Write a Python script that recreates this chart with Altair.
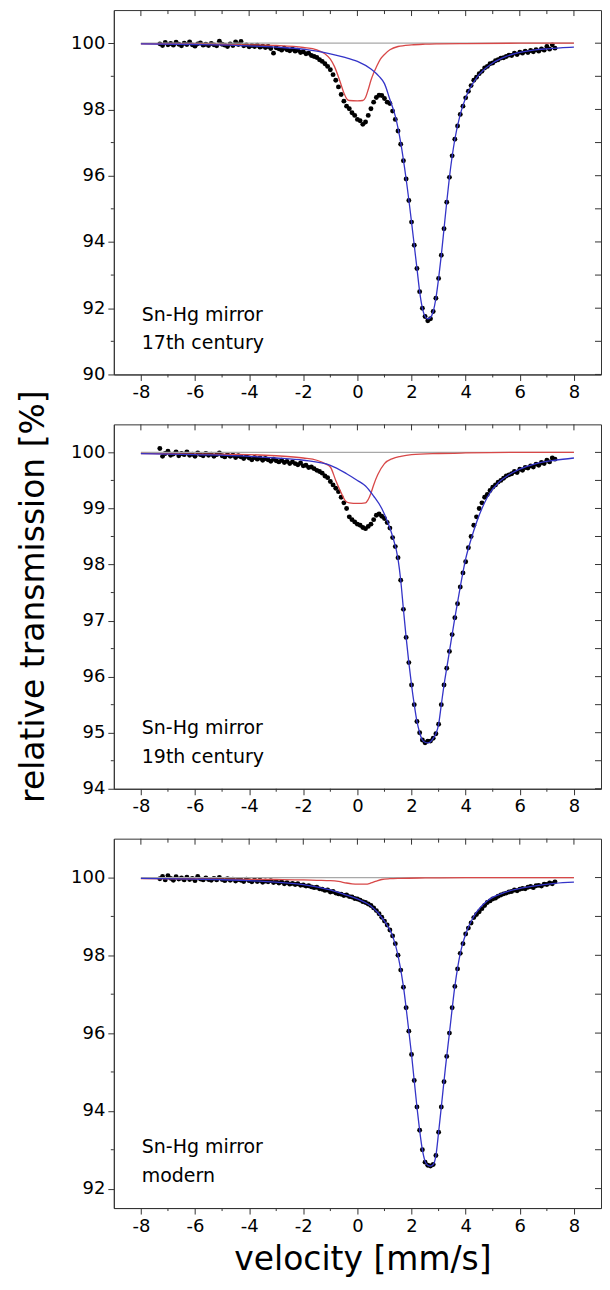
import altair as alt
import pandas as pd

FONT = "DejaVu Sans"
TICK = "#333333"
BLUE = "#3434c8"
RED = "#d84848"
GRAY = "#a8a8a8"

# velocity channels (mm/s) of the measured spectra
VEL_START, VEL_STEP, N_CH = -7.3, 0.1, 147
VEL = [round(VEL_START + VEL_STEP * i, 1) for i in range(N_CH)]

DATA1 = [
    99.98, 99.93, 100.02, 99.95, 99.99, 99.94, 100.03, 99.97, 99.92, 100.0,
    99.96, 100.04, 99.95, 99.91, 99.98, 100.01, 99.94, 99.97, 99.93, 99.99,
    99.95, 99.92, 100.06, 99.97, 99.94, 99.9, 99.98, 99.93, 100.04, 99.96,
    100.05, 99.92, 99.95, 99.89, 99.93, 99.9, 99.94, 99.88, 99.91, 99.87,
    99.9, 99.84, 99.7, 99.86, 99.83, 99.79, 99.85, 99.8, 99.77, 99.82,
    99.76, 99.79, 99.72, 99.74, 99.68, 99.7, 99.63, 99.6, 99.57, 99.5,
    99.45, 99.38, 99.3, 99.2, 99.05, 98.88, 98.68, 98.45, 98.25, 98.1,
    98.02, 97.9, 97.82, 97.7, 97.66, 97.55, 97.62, 97.82, 98.02, 98.22,
    98.36, 98.43, 98.42, 98.33, 98.22, 98.18, 97.95, 97.7, 97.35, 96.95,
    96.45, 95.9, 95.25, 94.6, 93.9, 93.2, 92.5, 92.0, 91.75, 91.62,
    91.68, 91.9, 92.3, 92.9, 93.6, 94.4, 95.2, 95.95, 96.6, 97.1,
    97.5, 97.85, 98.1, 98.35, 98.55, 98.72, 98.88, 98.97, 99.08, 99.15,
    99.25, 99.3, 99.38, 99.4, 99.47, 99.5, 99.55, 99.56, 99.6, 99.64,
    99.63, 99.7, 99.66, 99.73, 99.7, 99.76, 99.72, 99.78, 99.74, 99.8,
    99.76, 99.83, 99.79, 99.9, 99.82, 99.95, 99.85,
]
DATA2 = [
    100.07, 99.93, 99.98, 100.02, 99.95, 99.97, 100.01, 99.94, 99.98, 99.96,
    100.01, 99.95, 99.97, 99.93, 99.99, 99.96, 99.94, 99.98, 99.95, 99.97,
    99.93, 99.96, 99.99, 99.94, 99.92, 99.96, 99.93, 99.95, 99.91, 99.94,
    99.92, 99.89, 99.93, 99.9, 99.87, 99.91, 99.88, 99.9, 99.86, 99.89,
    99.87, 99.84, 99.88, 99.85, 99.83, 99.86, 99.82, 99.84, 99.8, 99.83,
    99.8, 99.78, 99.81, 99.76, 99.77, 99.73, 99.74, 99.71, 99.68, 99.66,
    99.63, 99.58, 99.55, 99.48, 99.42, 99.36, 99.3, 99.2, 99.1, 99.0,
    98.85, 98.8, 98.76, 98.72, 98.7, 98.66, 98.64, 98.68, 98.72, 98.8,
    98.88, 98.9, 98.86, 98.82, 98.75, 98.65, 98.48, 98.32, 98.12, 97.72,
    97.2, 96.7, 96.25, 95.85, 95.5, 95.2, 95.0, 94.87, 94.82, 94.85,
    94.85, 94.9, 94.98, 95.15, 95.5, 95.85, 96.15, 96.45, 96.75, 97.05,
    97.3, 97.6, 97.85, 98.05, 98.3, 98.5, 98.7, 98.85, 99.0, 99.1,
    99.2, 99.25, 99.32, 99.38, 99.42, 99.47, 99.5, 99.54, 99.58, 99.6,
    99.62, 99.66, 99.64, 99.7, 99.68, 99.73, 99.72, 99.76, 99.74, 99.79,
    99.77, 99.82, 99.8, 99.86, 99.83, 99.9, 99.88,
]
DATA3 = [
    99.97, 100.03, 99.94, 100.05, 99.98, 99.93, 100.02, 99.96, 99.99, 99.94,
    100.01, 99.95, 99.98, 99.92, 100.03, 99.96, 99.94, 99.99, 99.95, 99.93,
    99.98, 99.94, 100.0, 99.95, 99.92, 99.97, 99.93, 99.96, 99.91, 99.95,
    99.93, 99.9, 99.96, 99.92, 99.89, 99.94, 99.9, 99.93, 99.88, 99.91,
    99.89, 99.92, 99.87, 99.9, 99.86, 99.89, 99.84, 99.87, 99.83, 99.85,
    99.82, 99.84, 99.8, 99.81, 99.78, 99.79, 99.76, 99.74, 99.75, 99.71,
    99.7, 99.67, 99.68, 99.63, 99.64, 99.6, 99.58, 99.57, 99.54, 99.55,
    99.51, 99.5, 99.46, 99.45, 99.42, 99.38, 99.36, 99.32, 99.28, 99.22,
    99.15, 99.07, 98.98, 98.88, 98.78, 98.65, 98.5, 98.3, 98.0, 97.62,
    97.18, 96.65, 96.05, 95.45, 94.78, 94.1, 93.5, 93.0, 92.68, 92.6,
    92.58, 92.62, 92.85, 93.45, 94.1, 94.75, 95.4, 96.0, 96.65, 97.2,
    97.65, 98.05, 98.3, 98.55, 98.7, 98.83, 98.97, 99.05, 99.12, 99.2,
    99.28, 99.36, 99.4, 99.45, 99.47, 99.52, 99.55, 99.58, 99.6, 99.63,
    99.64, 99.68, 99.66, 99.7, 99.72, 99.71, 99.75, 99.77, 99.74, 99.79,
    99.8, 99.78, 99.83, 99.82, 99.86, 99.84, 99.89,
]

# ---- fitted subspectra ----
BLUE1_X = [-8, -6, -4, -3, -2, -1.5, -1.0, -0.5, 0.0, 0.5, 0.8, 1.0, 1.2, 1.4, 1.6, 1.8, 2.0, 2.1, 2.2, 2.3,
           2.4, 2.5, 2.6, 2.7, 2.8, 2.9, 3.0, 3.1, 3.2, 3.3, 3.4, 3.6, 3.8, 4.0, 4.4, 5.0, 5.5, 6.0, 6.5, 7.0, 7.5, 8.0]
BLUE1_Y = [99.98, 99.96, 99.92, 99.88, 99.82, 99.76, 99.68, 99.58, 99.45, 99.22, 99.0, 98.78, 98.3, 97.8, 97.0,
           95.9, 94.6, 93.9, 93.2, 92.5, 92.0, 91.75, 91.68, 91.72, 91.9, 92.3, 92.9, 93.6, 94.4, 95.2, 95.95,
           97.1, 97.85, 98.35, 98.95, 99.4, 99.6, 99.72, 99.79, 99.83, 99.86, 99.88]
RED1_X = [-8, -6, -4, -3, -2, -1.5, -1.2, -1.0, -0.85, -0.7, -0.6, -0.5, -0.4, -0.3, 0.0, 0.2, 0.3, 0.4, 0.5,
          0.6, 0.7, 0.85, 1.0, 1.2, 1.5, 2.0, 2.5, 3.0, 4.0, 6.0, 8.0]
RED1_Y = [99.98, 99.97, 99.95, 99.93, 99.87, 99.8, 99.68, 99.52, 99.3, 98.98, 98.74, 98.5, 98.33, 98.27, 98.26,
          98.27, 98.36, 98.6, 98.88, 99.1, 99.28, 99.52, 99.66, 99.8, 99.9, 99.95, 99.97, 99.98, 99.99, 100.0, 100.0]

BLUE2_X = [-8, -6, -4, -3, -2, -1.0, -0.4, 0.0, 0.3, 0.6, 0.9, 1.1, 1.3, 1.5, 1.6, 1.7, 1.8, 1.9, 2.0, 2.1,
           2.2, 2.3, 2.4, 2.5, 2.6, 2.7, 2.8, 2.9, 3.0, 3.1, 3.2, 3.3, 3.4, 3.6, 3.8, 4.0, 4.2, 4.4, 4.8, 5.25,
           5.6, 6.0, 6.6, 7.3, 8.0]
BLUE2_Y = [99.98, 99.96, 99.93, 99.9, 99.86, 99.77, 99.62, 99.5, 99.4, 99.22, 99.0, 98.78, 98.5, 98.1, 97.72,
           97.2, 96.7, 96.25, 95.85, 95.5, 95.2, 95.0, 94.87, 94.83, 94.82, 94.84, 94.9, 94.98, 95.15, 95.5,
           95.85, 96.15, 96.45, 97.05, 97.6, 98.1, 98.45, 98.75, 99.2, 99.48, 99.6, 99.7, 99.8, 99.86, 99.9]
RED2_X = [-8, -6, -4, -3, -2, -1.5, -1.2, -1.0, -0.8, -0.6, -0.45, -0.3, 0.0, 0.3, 0.4, 0.5, 0.6, 0.75, 1.0,
          1.3, 1.6, 2.0, 3.0, 4.0, 6.0, 8.0]
RED2_Y = [99.98, 99.97, 99.96, 99.94, 99.9, 99.86, 99.8, 99.74, 99.5, 99.28, 99.14, 99.1, 99.09, 99.1, 99.16,
          99.27, 99.42, 99.6, 99.8, 99.89, 99.93, 99.96, 99.98, 99.99, 100.0, 100.0]

BLUE3_X = [-8, -6, -4, -3, -2, -1.0, -0.5, 0.0, 0.5, 1.0, 1.3, 1.5, 1.7, 1.85, 2.0, 2.2, 2.4, 2.5, 2.6, 2.7,
           2.8, 2.9, 3.0, 3.1, 3.25, 3.4, 3.6, 3.8, 4.0, 4.3, 4.8, 5.5, 6.5, 7.3, 8.0]
BLUE3_Y = [99.98, 99.96, 99.92, 99.88, 99.82, 99.68, 99.57, 99.45, 99.27, 98.88, 98.5, 98.0, 97.2, 96.35, 95.45,
           94.1, 93.0, 92.7, 92.6, 92.58, 92.62, 92.85, 93.45, 94.1, 95.1, 96.0, 97.2, 98.05, 98.55, 99.0, 99.4,
           99.63, 99.78, 99.85, 99.88]
RED3_X = [-8, -5, -3, -2, -1.5, -1.0, -0.7, -0.4, -0.2, 0.0, 0.3, 0.5, 0.7, 0.9, 1.2, 1.6, 2.5, 4.0, 8.0]
RED3_Y = [99.97, 99.96, 99.95, 99.94, 99.93, 99.92, 99.9, 99.86, 99.84, 99.83, 99.83, 99.86, 99.91, 99.95,
          99.97, 99.98, 99.99, 100.0, 100.0]

GRAY_X = [-8, 8]
GRAY_Y = [100, 100]

# ---- axes ----
X_DOMAIN = [-9, 9]
X_MAJOR = [-8, -6, -4, -2, 0, 2, 4, 6, 8]
X_MINOR = [-7, -5, -3, -1, 1, 3, 5, 7]

Y1_DOMAIN = [90, 101]
Y1_MAJOR = [90, 92, 94, 96, 98, 100]
Y1_MINOR = [91, 93, 95, 97, 99]
Y2_DOMAIN = [94, 100.5]
Y2_MAJOR = [94, 95, 96, 97, 98, 99, 100]
Y2_MINOR = [94.5, 95.5, 96.5, 97.5, 98.5, 99.5]
Y3_DOMAIN = [91.5, 101]
Y3_MAJOR = [92, 94, 96, 98, 100]
Y3_MINOR = [93, 95, 97, 99]

LABELS1 = ["Sn-Hg mirror", "17th century"]
LABELS2 = ["Sn-Hg mirror", "19th century"]
LABELS3 = ["Sn-Hg mirror", "modern"]

W = 488


def line_df(xs, ys):
    return pd.DataFrame({"v": xs, "t": ys})


def panel(data, blue, red, ydom, ymaj, ymin, labels, height, label_y,
          ytitle="", xtitle=""):
    xs = alt.Scale(domain=X_DOMAIN, nice=False, zero=False)
    ys = alt.Scale(domain=ydom, nice=False, zero=False)

    yaxis_kw = dict(values=ymaj, format="d", title=ytitle)
    if ytitle:
        yaxis_kw.update(titlePadding=20, titleY=172)
    xaxis_kw = dict(values=X_MAJOR, labelExpr="'' + datum.value", title=xtitle, labelFlush=False)
    if xtitle:
        xaxis_kw.update(titlePadding=9, titleX=W / 2 + 5)

    xn = alt.X("v:Q", scale=xs, axis=alt.Axis(**xaxis_kw))
    yn = alt.Y("t:Q", scale=ys, axis=alt.Axis(**yaxis_kw))

    pts = alt.Chart(pd.DataFrame({"v": VEL, "t": data})).mark_circle(
        size=24, color="black", opacity=1
    ).encode(x=xn, y=yn)
    gray = alt.Chart(line_df(GRAY_X, GRAY_Y)).mark_line(color=GRAY, strokeWidth=1.2).encode(x=xn, y=yn)
    redl = alt.Chart(line_df(*red)).mark_line(color=RED, strokeWidth=1.3, interpolate="monotone").encode(x=xn, y=yn)
    bluel = alt.Chart(line_df(*blue)).mark_line(color=BLUE, strokeWidth=1.3, interpolate="monotone").encode(x=xn, y=yn)

    # minor ticks (outside) on bottom and left
    bmin = alt.Chart(pd.DataFrame({"v": X_MINOR})).mark_rule(color=TICK).encode(
        x=xn, y=alt.value(height), y2=alt.value(height + 3))
    lmin = alt.Chart(pd.DataFrame({"t": ymin})).mark_rule(color=TICK).encode(
        y=yn, x=alt.value(-3), x2=alt.value(0))
    # inward ticks on top and right (mirror axes)
    tmaj = alt.Chart(pd.DataFrame({"v": X_MAJOR})).mark_rule(color=TICK).encode(
        x=xn, y=alt.value(0), y2=alt.value(6))
    tmin = alt.Chart(pd.DataFrame({"v": X_MINOR})).mark_rule(color=TICK).encode(
        x=xn, y=alt.value(0), y2=alt.value(4))
    rall = alt.Chart(pd.DataFrame({"t": sorted(ymaj + ymin)})).mark_rule(color=TICK).encode(
        y=yn, x=alt.value(W - 6), x2=alt.value(W))

    dummy = pd.DataFrame({"a": [0]})
    txt = [
        alt.Chart(dummy).mark_text(align="left", baseline="middle", font=FONT, fontSize=19, color="black").encode(
            x=alt.value(28), y=alt.value(label_y + 29 * i), text=alt.value(s))
        for i, s in enumerate(labels)
    ]

    return alt.layer(pts, gray, redl, bluel, bmin, lmin, tmaj, tmin, rall, *txt).properties(
        width=W, height=height)


p1 = panel(DATA1, (BLUE1_X, BLUE1_Y), (RED1_X, RED1_Y), Y1_DOMAIN, Y1_MAJOR, Y1_MINOR, LABELS1, 365, 305)
p2 = panel(DATA2, (BLUE2_X, BLUE2_Y), (RED2_X, RED2_Y), Y2_DOMAIN, Y2_MAJOR, Y2_MINOR, LABELS2, 365, 304,
           ytitle="relative transmission [%]")
p3 = panel(DATA3, (BLUE3_X, BLUE3_Y), (RED3_X, RED3_Y), Y3_DOMAIN, Y3_MAJOR, Y3_MINOR, LABELS3, 370, 309,
           xtitle="velocity [mm/s]")

chart = alt.vconcat(p1, p2, p3, spacing=50, bounds="flush").properties(
    padding={"left": 9, "top": 0, "right": 0, "bottom": 0}
).configure_axis(
    labelFont=FONT, labelFontSize=18, labelColor="black",
    titleFont=FONT, titleFontSize=33, titleFontWeight="normal", titleColor="black",
    tickColor=TICK, domainColor=TICK, tickSize=6, labelPadding=3, grid=False,
).configure_view(stroke=TICK, strokeWidth=1)

chart.save("out.html", embed_options={"renderer": "svg", "actions": False})
